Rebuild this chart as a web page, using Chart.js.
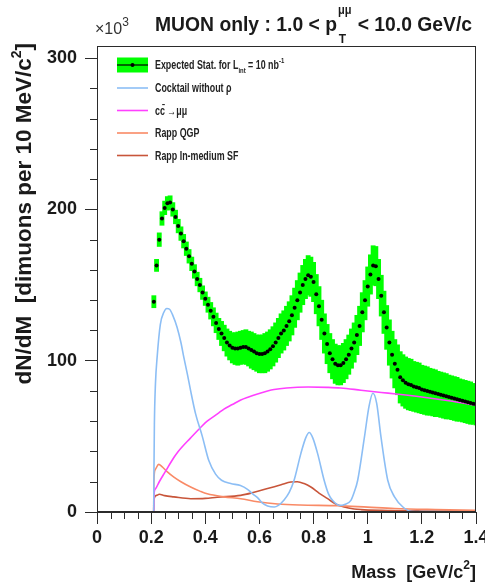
<!DOCTYPE html>
<html><head><meta charset="utf-8">
<script src="https://cdn.jsdelivr.net/npm/chart.js@4/dist/chart.umd.min.js"></script>
<style>html,body{margin:0;padding:0;background:#fff;}canvas{display:block}</style>
</head><body>
<canvas id="c" width="485" height="582"></canvas>
<script>
// ---------- data (values in units of 10^3) ----------
const massBins = [0.21,0.22,0.23,0.24,0.25,0.26,0.27,0.28,0.29,0.30,
0.31,0.32,0.33,0.34,0.35,0.36,0.37,0.38,0.39,0.40,
0.41,0.42,0.43,0.44,0.45,0.46,0.47,0.48,0.49,0.50,
0.51,0.52,0.53,0.54,0.55,0.56,0.57,0.58,0.59,0.60,
0.61,0.62,0.63,0.64,0.65,0.66,0.67,0.68,0.69,0.70,
0.71,0.72,0.73,0.74,0.75,0.76,0.77,0.78,0.79,0.80,
0.81,0.82,0.83,0.84,0.85,0.86,0.87,0.88,0.89,0.90,
0.91,0.92,0.93,0.94,0.95,0.96,0.97,0.98,0.99,1.00,
1.01,1.02,1.03,1.04,1.05,1.06,1.07,1.08,1.09,1.10,
1.11,1.12,1.13,1.14,1.15,1.16,1.17,1.18,1.19,1.20,
1.21,1.22,1.23,1.24,1.25,1.26,1.27,1.28,1.29,1.30,
1.31,1.32,1.33,1.34,1.35,1.36,1.37,1.38,1.39,1.40];
const expected = [139,163,180,194,201,204,204.5,200,195,189,
184,179,174,169,164,159,154,150,145,141,
137,133,129,125,121,118,115,112,110,108.5,
108,108,108.5,109,109,108,107,106,105,104.5,
104.5,105,106,107.5,109.5,112,115,118,120,123,
126,130,135,140,145,150,154,156.5,155.5,152,
144,136,127,118,111,105,101,98,97,97,
98.5,101,104,108,112,117,123,132,140,149,
157,163,162.5,154,143,132,122,112,104,98,
94,89,87,85.5,84.5,84,83,82.5,82,81,
80.5,80,79.5,79,78.5,78,77.5,77,76.5,76,
75.5,75,74.5,74,73.5,73,72.5,72,71.5,71];
const expectedErr = [4,4,4.5,4.5,4.5,4.5,4.5,4.5,4.5,4.5,
4.5,4.5,4.5,4.5,4.5,4.5,4.5,4.5,4.5,4.5,
5,5.5,6,6.5,7,8,8.5,9,9.5,10,
10.5,11,11,11,11.5,11.5,12,12,12,12.5,
12.5,13,13,13,13,13,13,13,13,13,
13,13,13,13,13,13,13,13,13,13,
13,13,13,13,13,13,13,13,13,13,
13,13,13,13,13,13,13,13,13,13,
13,13,13,13,13.5,14,14.5,15,15.5,16,
16.5,17,17,17,17,17,16.5,16.5,16.5,16,
16,16,15.5,15.5,15.5,15,15,15,15,14.5,
14.5,14.5,14.5,14,14,14,14,14,13.5,13.5];

const cocktailMass = [0,0.2095,0.21,0.212,0.216,0.222,0.234,0.247,0.258,0.268,0.28,0.296,0.31,0.321,0.334,0.346,0.364,0.389,0.413,0.438,0.46,0.494,0.53,0.556,0.575,0.593,0.61,0.63,0.655,0.67,0.691,0.71,0.728,0.753,0.771,0.784,0.797,0.815,0.839,0.855,0.87,0.895,0.915,0.938,0.95,0.963,0.988,1.005,1.019,1.033,1.049,1.074,1.099,1.13,1.16,1.2,1.3,1.4];
const cocktailVal  = [0,0,20,58,85,102,124,132,134.5,134,130,122,112,102,91,80,65,50,34,25,21,18.8,17.5,15,12,9.5,6,4,3.3,4.4,8,13,21,38.6,49,52.5,49,38.6,21,12,7.7,4.4,5,7.7,13,21,49.6,70,78.5,72,49.6,21,10,3.3,0.5,0.3,0.2,0.2];

const ccbarMass = [0,0.2095,0.21,0.215,0.23,0.25,0.284,0.3,0.346,0.389,0.407,0.45,0.469,0.5,0.531,0.56,0.593,0.63,0.654,0.7,0.78,0.85,0.9,0.975,1.05,1.105,1.2,1.3,1.4];
const ccbarVal  = [0,0,10,15,20,26,36,40,49,57,60,65.5,68,71,74,76,78,80,81,82,82.6,82.4,82,80.5,79,78,76,73.5,70.5];

const qgpMass = [0,0.2095,0.21,0.215,0.228,0.24,0.26,0.284,0.31,0.346,0.38,0.407,0.469,0.531,0.593,0.667,0.75,0.889,1.0,1.099,1.25,1.4];
const qgpVal  = [0,0,20,28,31.5,30,26.5,23,20,16.5,13.8,12,10,8.8,6.8,5.3,4.6,4.2,3.2,2.3,1.6,1.1];

const sfMass = [0,0.2095,0.21,0.22,0.23,0.25,0.284,0.346,0.4,0.444,0.531,0.58,0.63,0.68,0.716,0.74,0.765,0.79,0.82,0.852,0.88,0.913,0.95,0.975,1.05,1.2,1.4];
const sfVal  = [0,0,8,11,11.7,10.8,10,8.8,9,9.8,11,13,15.5,18,19.8,20,18.8,16.5,12.5,8.8,5.5,3.3,2,1.6,1.1,0.7,0.5];

const xTicks = [0,0.2,0.4,0.6,0.8,1.0,1.2,1.4];
const xTickLabels = ['0','0.2','0.4','0.6','0.8','1','1.2','1.4'];
const yTicks = [0,100,200,300];
const yTickLabels = ['0','100','200','300'];
const xMinorTicks = [0.05,0.1,0.15,0.25,0.3,0.35,0.45,0.5,0.55,0.65,0.7,0.75,0.85,0.9,0.95,1.05,1.1,1.15,1.25,1.3,1.35];
const yMinorTicks = [20,40,60,80,120,140,160,180,220,240,260,280];

// ---------- styles ----------
const C_GREEN = '#00ff00', C_BLUE = '#8cbef5', C_MAG = '#ff40ff', C_QGP = '#f98a66', C_SF = '#c8553a';
const AXIS = '#2b2b2b';
const pts = (xs, ys) => xs.map((x, i) => ({x, y: ys[i]}));

const decor = {
  id: 'decor',
  afterDraw(chart) {
    const {ctx, chartArea: a, scales: {x, y}} = chart;
    ctx.save();
    ctx.strokeStyle = AXIS; ctx.lineWidth = 1;
    ctx.strokeRect(Math.round(a.left) + 0.5, Math.round(a.top) + 0.5, Math.round(a.right - a.left) - 1, Math.round(a.bottom - a.top) - 1);
    ctx.beginPath();
    xMinorTicks.forEach(v => { const p = Math.round(x.getPixelForValue(v)) + 0.5; ctx.moveTo(p, a.bottom); ctx.lineTo(p, a.bottom + 7); });
    yMinorTicks.forEach(v => { const p = Math.round(y.getPixelForValue(v)) + 0.5; ctx.moveTo(a.left, p); ctx.lineTo(a.left - 7, p); });
    ctx.stroke();

    ctx.fillStyle = '#1a1a1a';
    ctx.textBaseline = 'alphabetic';
    // title
    ctx.save();
    ctx.translate(155, 31);
    ctx.scale(0.92, 1);
    const F = 'bold 21px "Liberation Sans", Arial, sans-serif';
    ctx.font = F;
    const p1 = 'MUON only : 1.0 < p';
    ctx.fillText(p1, 0, 0);
    let cx = ctx.measureText(p1).width + 1;
    ctx.font = 'bold 12px "Liberation Sans", Arial, sans-serif';
    ctx.fillText('\u03bc\u03bc', cx, -17);
    const w1 = ctx.measureText('\u03bc\u03bc').width;
    ctx.font = 'bold 13px "Liberation Sans", Arial, sans-serif';
    ctx.fillText('T', cx + 1, 12);
    cx += Math.max(w1, ctx.measureText('T').width) + 1;
    ctx.font = F;
    ctx.fillText(' < 10.0 GeV/c', cx, 0);
    ctx.restore();

    // x10^3
    ctx.fillStyle = '#333';
    ctx.font = '16px "Liberation Sans", Arial, sans-serif';
    ctx.fillText('\u00d710', 95, 34);
    const wx = ctx.measureText('\u00d710').width;
    ctx.font = '12px "Liberation Sans", Arial, sans-serif';
    ctx.fillText('3', 95 + wx, 26);

    // y title
    ctx.fillStyle = '#1a1a1a';
    ctx.save();
    ctx.translate(31, 43);
    ctx.rotate(-Math.PI / 2);
    ctx.textAlign = 'right';
    const YF = 'bold 22.5px "Liberation Sans", Arial, sans-serif';
    ctx.font = YF;
    const wy2 = ctx.measureText(']').width;
    ctx.fillText(']', 0, 0);
    ctx.font = 'bold 14px "Liberation Sans", Arial, sans-serif';
    const wsup = ctx.measureText('2').width;
    ctx.fillText('2', -wy2, -10);
    ctx.font = YF;
    ctx.fillText('dN/dM  [dimuons per 10 MeV/c', -wy2 - wsup, 0);
    ctx.restore();

    // x title
    ctx.save();
    ctx.textAlign = 'right';
    ctx.font = 'bold 18px "Liberation Sans", Arial, sans-serif';
    ctx.fillText(']', 476, 578);
    const wxb = ctx.measureText(']').width;
    ctx.font = 'bold 12px "Liberation Sans", Arial, sans-serif';
    ctx.fillText('2', 476 - wxb, 569);
    const wx2 = ctx.measureText('2').width;
    ctx.font = 'bold 18px "Liberation Sans", Arial, sans-serif';
    ctx.fillText('Mass  [GeV/c', 476 - wxb - wx2, 578);
    ctx.restore();

    // legend
    const LX0 = 117, LX1 = 148, TX = 155;
    const rows = [65, 88, 110.5, 133, 155.5];
    ctx.fillStyle = C_GREEN;
    ctx.fillRect(LX0, rows[0] - 7.5, LX1 - LX0, 15);
    ctx.strokeStyle = '#000'; ctx.lineWidth = 1.2;
    ctx.beginPath(); ctx.moveTo(LX0, rows[0]); ctx.lineTo(LX1, rows[0]); ctx.stroke();
    ctx.fillStyle = '#000';
    ctx.beginPath(); ctx.arc((LX0 + LX1) / 2, rows[0], 2, 0, 2 * Math.PI); ctx.fill();
    [[C_BLUE, rows[1]], [C_MAG, rows[2]], [C_QGP, rows[3]], [C_SF, rows[4]]].forEach(([c, yy]) => {
      ctx.strokeStyle = c; ctx.lineWidth = 1.6;
      ctx.beginPath(); ctx.moveTo(LX0, yy); ctx.lineTo(LX1, yy); ctx.stroke();
    });
    const LF = 'bold 12px "Liberation Sans", Arial, sans-serif';
    const LFs = 'bold 8px "Liberation Sans", Arial, sans-serif';
    const sx = 0.74;
    ctx.fillStyle = '#222';
    ctx.save();
    ctx.translate(TX, rows[0] + 4); ctx.scale(sx, 1);
    ctx.font = LF; let lx = 0;
    ctx.fillText('Expected Stat. for L', lx, 0); lx += ctx.measureText('Expected Stat. for L').width;
    ctx.font = LFs; ctx.fillText('int', lx, 4); lx += ctx.measureText('int').width;
    ctx.font = LF; ctx.fillText(' = 10 nb', lx, 0); lx += ctx.measureText(' = 10 nb').width;
    ctx.font = LFs; ctx.fillText('-1', lx, -6);
    ctx.restore();
    const other = ['Cocktail without \u03c1', 'cc\u0304 \u2192\u03bc\u03bc', 'Rapp QGP', 'Rapp In-medium SF'];
    other.forEach((t, i) => {
      ctx.save(); ctx.translate(TX, rows[i + 1] + 4); ctx.scale(sx, 1);
      ctx.font = LF; ctx.fillText(t, 0, 0); ctx.restore();
    });
    ctx.restore();
  }
};

new Chart(document.getElementById('c'), {
  type: 'line',
  data: {
    datasets: [
      { label: 'Expected Stat.', data: pts(massBins, expected), showLine: false,
        pointRadius: 2, pointBackgroundColor: '#000', pointBorderWidth: 0, order: 0 },
      { label: 'Cocktail without rho', data: pts(cocktailMass, cocktailVal), borderColor: C_BLUE, borderWidth: 1.6,
        pointRadius: 0, cubicInterpolationMode: 'monotone', order: 1 },
      { label: 'ccbar', data: pts(ccbarMass, ccbarVal), borderColor: C_MAG, borderWidth: 1.6,
        pointRadius: 0, cubicInterpolationMode: 'monotone', order: 2 },
      { label: 'Rapp QGP', data: pts(qgpMass, qgpVal), borderColor: C_QGP, borderWidth: 1.6,
        pointRadius: 0, cubicInterpolationMode: 'monotone', order: 3 },
      { label: 'Rapp In-medium SF', data: pts(sfMass, sfVal), borderColor: C_SF, borderWidth: 1.6,
        pointRadius: 0, cubicInterpolationMode: 'monotone', order: 4 },
      { type: 'bar', label: 'Stat. band', data: massBins.map((m, i) => ({ x: m, y: [expected[i] - expectedErr[i], expected[i] + expectedErr[i]] })),
        backgroundColor: C_GREEN, borderWidth: 0, barThickness: 4.2, grouped: false, order: 6 }
    ]
  },
  options: {
    responsive: false, animation: false, devicePixelRatio: 1,
    layout: { padding: { left: 0, right: 9, top: 46, bottom: 0 } },
    plugins: { legend: { display: false }, tooltip: { enabled: false } },
    scales: {
      x: {
        type: 'linear', min: 0, max: 1.4, offset: false,
        afterBuildTicks: s => { s.ticks = xTicks.map(v => ({ value: v })); },
        ticks: { callback: (v, i) => xTickLabels[i], autoSkip: false, maxRotation: 0, padding: 3,
          color: '#1a1a1a', font: { family: '"Liberation Sans", Arial, sans-serif', size: 18, weight: 'bold' } },
        grid: { drawOnChartArea: false, tickLength: 12, color: AXIS, offset: false },
        border: { color: AXIS },
        afterFit: s => { s.height = 70; s.paddingLeft = 0; s.paddingRight = 0; }
      },
      y: {
        min: 0, max: 308,
        afterBuildTicks: s => { s.ticks = yTicks.map(v => ({ value: v })); },
        ticks: { callback: (v, i) => yTickLabels[i], padding: 8,
          color: '#1a1a1a', font: { family: '"Liberation Sans", Arial, sans-serif', size: 18, weight: 'bold' } },
        grid: { drawOnChartArea: false, tickLength: 12, color: AXIS },
        border: { color: AXIS },
        afterFit: s => { s.width = 97; s.paddingTop = 0; s.paddingBottom = 0; }
      }
    }
  },
  plugins: [decor]
});
</script>
</body></html>
